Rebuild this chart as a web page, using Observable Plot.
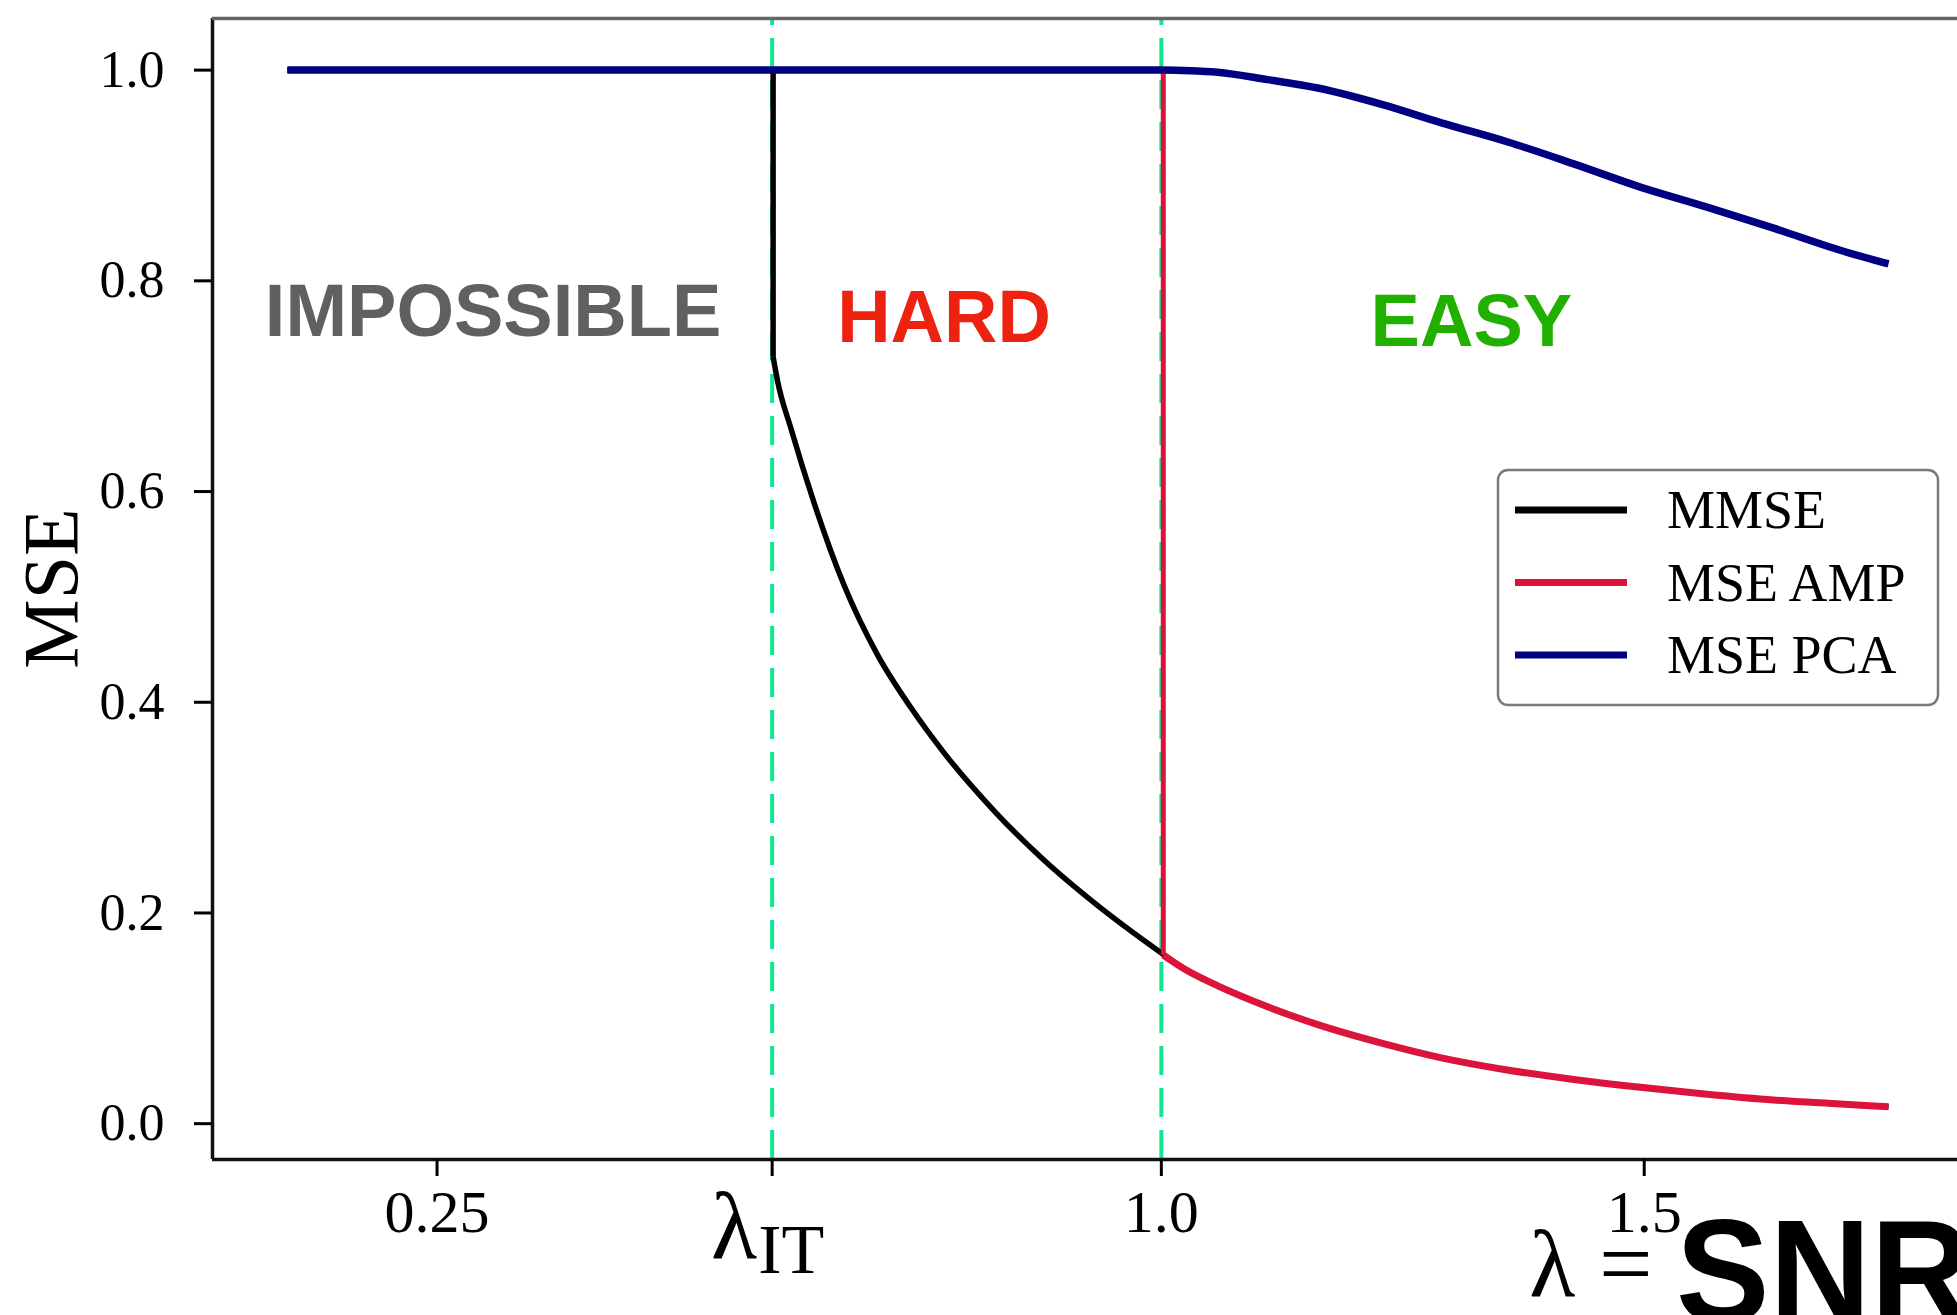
<!DOCTYPE html>
<html>
<head>
<meta charset="utf-8">
<script src="https://cdn.jsdelivr.net/npm/d3@7"></script>
<script src="https://cdn.jsdelivr.net/npm/@observablehq/plot@0.6"></script>
<style>
  html, body { margin: 0; padding: 0; background: #ffffff; }
  #chart svg { display: block; }
</style>
</head>
<body>
<div id="chart"></div>
<script>
// ---------- data ----------
const xDomain = [0.0175, 1.8244];
const yDomain = [-0.034, 1.049];
const lambdaIT = 0.597;
const dashedX = [lambdaIT, 1.0];

const xTicks = [0.25, lambdaIT, 1.0, 1.5];
const xTickLabels = ["0.25", "", "1.0", "1.5"];
const yTicks = [0.0, 0.2, 0.4, 0.6, 0.8, 1.0];
const yTickLabels = ["0.0", "0.2", "0.4", "0.6", "0.8", "1.0"];

const seriesNames = ["MMSE", "MSE AMP", "MSE PCA"];

const mmseX = [0.095, 0.598, 0.598, 0.6026, 0.6164, 0.6405, 0.6715, 0.7061, 0.7406, 0.775, 0.8268, 0.8786, 0.930, 1.0, 1.0235, 1.058, 1.110, 1.162, 1.230, 1.290, 1.358, 1.427, 1.496, 1.565, 1.634, 1.703, 1.753];
const mmseY = [1.0, 1.0, 0.728, 0.705, 0.660, 0.589, 0.511, 0.445, 0.395, 0.352, 0.297, 0.250, 0.210, 0.162, 0.147, 0.131, 0.111, 0.094, 0.076, 0.0625, 0.051, 0.042, 0.0345, 0.028, 0.0225, 0.0187, 0.016];

const ampX = [0.095, 1.002, 1.002, 1.0235, 1.058, 1.110, 1.162, 1.230, 1.290, 1.358, 1.427, 1.496, 1.565, 1.634, 1.703, 1.753];
const ampY = [1.0, 1.0, 0.160, 0.147, 0.131, 0.111, 0.094, 0.076, 0.0625, 0.051, 0.042, 0.0345, 0.028, 0.0225, 0.0187, 0.016];

const pcaX = [0.095, 0.6, 1.0, 1.03, 1.058, 1.110, 1.162, 1.230, 1.290, 1.358, 1.427, 1.496, 1.565, 1.634, 1.703, 1.753];
const pcaY = [1.0, 1.0, 1.0, 0.9995, 0.998, 0.991, 0.983, 0.967, 0.950, 0.932, 0.911, 0.889, 0.870, 0.850, 0.829, 0.816];

const regionNames = ["IMPOSSIBLE", "HARD", "EASY"];
const regionX = [0.308, 0.775, 1.321];
const regionY = [0.748, 0.742, 0.738];

const axisLabelParts = ["λ =", "SNR"];
const axisLabelX = [1.381, 1.533];

// ---------- build ----------
const mk = (name, xs, ys) => xs.map((x, i) => ({series: name, x, y: ys[i]}));
const mmse = mk("MMSE", mmseX, mmseY);
const amp = mk("MSE AMP", ampX, ampY);
const pca = mk("MSE PCA", pcaX, pcaY);
// split each curve at its jump: the step part is straight, the decaying part is smooth
const mmseStep = mmse.slice(0, 3), mmseDecay = mmse.slice(2);
const ampStep = amp.slice(0, 3), ampDecay = amp.slice(2);

const regionColors = ["#606060", "#ee2211", "#22b000"];
const serif = "'Liberation Serif', 'Times New Roman', serif";
const sans = "'Liberation Sans', Arial, Helvetica, sans-serif";

const chart = Plot.plot({
  width: 1957,
  height: 1315,
  marginTop: 18,
  marginBottom: 156,
  marginLeft: 212,
  marginRight: 0,
  x: {domain: xDomain, axis: null},
  y: {domain: yDomain, axis: null},
  color: {domain: seriesNames, range: ["#000000", "#dc143c", "#000080"]},
  style: {background: "#ffffff", fontFamily: serif, color: "#000"},
  marks: [
    Plot.ruleX(dashedX, {y1: yDomain[0], y2: yDomain[1], stroke: "#10e890", strokeWidth: 4, strokeDasharray: "29,13"}),
    Plot.line(mmseStep, {x: "x", y: "y", stroke: "series", strokeWidth: 5.5, strokeLinecap: "butt", strokeLinejoin: "miter"}),
    Plot.line(mmseDecay, {x: "x", y: "y", stroke: "series", strokeWidth: 5.5, strokeLinecap: "butt", curve: "monotone-x"}),
    Plot.line(ampStep, {x: "x", y: "y", stroke: "series", strokeWidth: 5, strokeLinecap: "butt", strokeLinejoin: "miter"}),
    Plot.line(ampDecay, {x: "x", y: "y", stroke: "series", strokeWidth: 7, strokeLinecap: "butt", curve: "monotone-x"}),
    Plot.line(pca, {x: "x", y: "y", stroke: "series", strokeWidth: 7.5, strokeLinecap: "butt", curve: "monotone-x"}),
    // frame
    Plot.ruleX([xDomain[0]], {stroke: "#111", strokeWidth: 3.5}),
    Plot.ruleY([yDomain[0]], {stroke: "#111", strokeWidth: 3.5}),
    Plot.ruleY([yDomain[1]], {stroke: "#666", strokeWidth: 3.5}),
    // axes
    Plot.axisX(xTicks, {anchor: "bottom", tickSize: 17, tickPadding: 13, strokeWidth: 3, fontSize: 60, fontFamily: serif, label: null,
      tickFormat: d => xTickLabels[xTicks.indexOf(d)]}),
    Plot.axisY(yTicks, {anchor: "left", tickSize: 18, tickPadding: 30, strokeWidth: 3, fontSize: 52, fontFamily: serif, label: null,
      tickFormat: d => yTickLabels[yTicks.indexOf(d)]}),
    // lambda_IT tick label
    Plot.text([lambdaIT], {x: d => d, frameAnchor: "bottom", text: () => "λ", textAnchor: "end", lineAnchor: "bottom", dx: -15, dy: 98, fontSize: 95, fontFamily: serif}),
    Plot.text([lambdaIT], {x: d => d, frameAnchor: "bottom", text: () => "IT", textAnchor: "start", lineAnchor: "bottom", dx: -14, dy: 113, fontSize: 70, fontFamily: serif, letterSpacing: 5}),
    // x axis label
    Plot.text([0], {x: () => axisLabelX[0], frameAnchor: "bottom", text: () => axisLabelParts[0], textAnchor: "start", lineAnchor: "bottom", dy: 136, fontSize: 95, fontFamily: serif}),
    Plot.text([0], {x: () => axisLabelX[1], frameAnchor: "bottom", text: () => axisLabelParts[1], textAnchor: "start", lineAnchor: "bottom", dy: 162, fontSize: 146, fontWeight: "bold", fontFamily: sans}),
    // region labels
    ...regionNames.map((name, i) => Plot.text([name], {
      x: () => regionX[i], y: () => regionY[i], text: d => d, fill: regionColors[i],
      textAnchor: "middle", lineAnchor: "bottom", fontSize: 74, fontWeight: "bold", fontFamily: sans
    }))
  ]
});

document.getElementById("chart").appendChild(chart);

const svg = d3.select(chart);
const sy = chart.scale("y"), sc = chart.scale("color");

// narrow the bold "SNR" slightly, as in the reference
svg.selectAll("text").filter(function () { return this.textContent === "SNR"; }).each(function () {
  const t = this.getAttribute("transform");
  if (t) {
    this.setAttribute("transform", t + " scale(0.96,1)");
  } else {
    const x = +this.getAttribute("x") || 0, y = +this.getAttribute("y") || 0;
    this.removeAttribute("x"); this.removeAttribute("y");
    this.setAttribute("transform", `translate(${x},${y}) scale(0.96,1)`);
  }
});

// y-axis title
svg.append("text")
  .attr("transform", `translate(77, ${(sy.apply(yDomain[0]) + sy.apply(yDomain[1])) / 2})rotate(-90)`)
  .attr("text-anchor", "middle")
  .attr("font-family", serif)
  .attr("font-size", 78)
  .attr("fill", "#000")
  .text("MSE");

// legend
const lg = svg.append("g").attr("text-anchor", "start");
lg.append("rect").attr("x", 1498).attr("y", 470).attr("width", 440).attr("height", 235)
  .attr("rx", 10).attr("fill", "#ffffff").attr("fill-opacity", 0.9)
  .attr("stroke", "#7a7a7a").attr("stroke-width", 2.5);
seriesNames.forEach((name, i) => {
  const yl = 510 + i * 72.5;
  lg.append("line").attr("x1", 1515).attr("x2", 1627).attr("y1", yl).attr("y2", yl)
    .attr("stroke", sc.apply(name)).attr("stroke-width", 7);
  lg.append("text").attr("x", 1667).attr("y", yl + 18).attr("text-anchor", "start")
    .attr("font-family", serif).attr("font-size", 54).attr("fill", "#000").text(name);
});
</script>
</body>
</html>
